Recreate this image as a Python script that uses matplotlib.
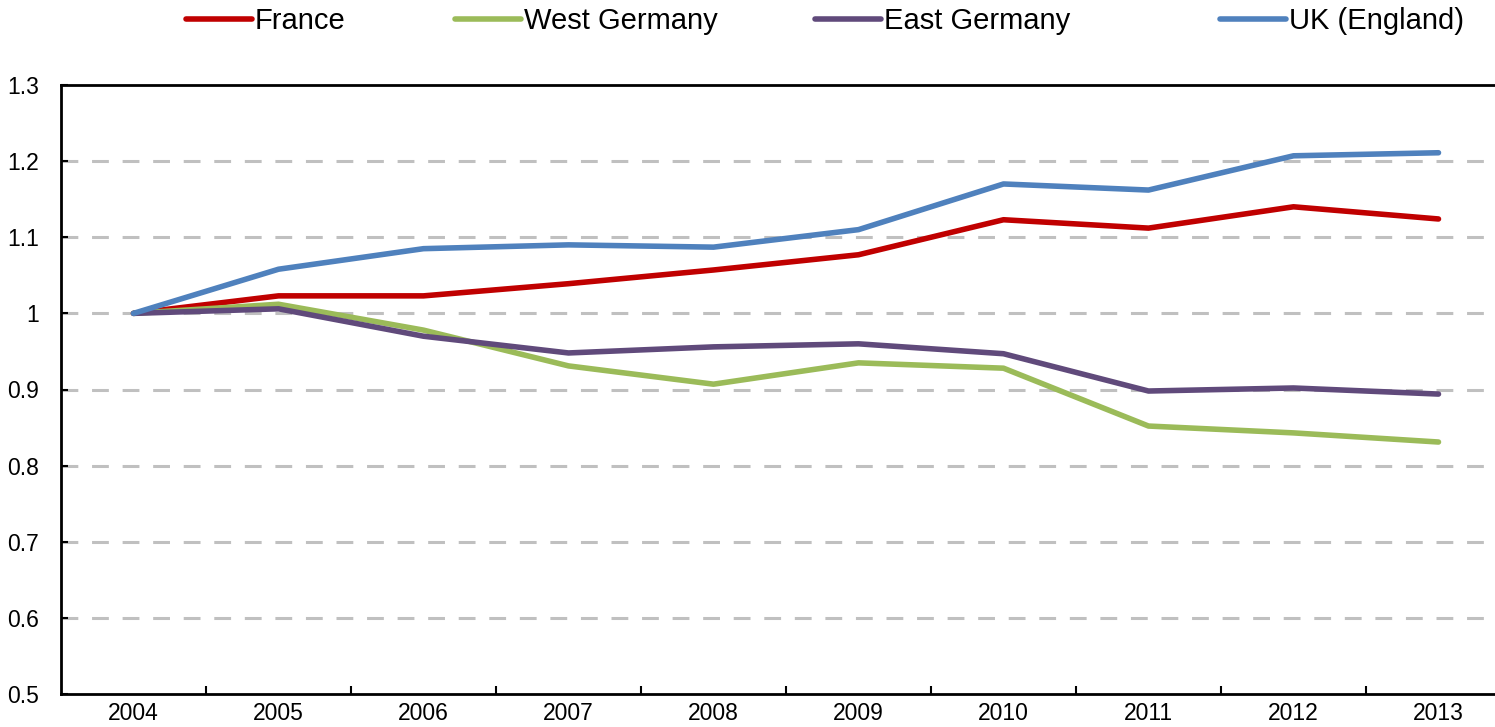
import matplotlib.pyplot as plt
from matplotlib.lines import Line2D

plt.rcParams['font.family'] = ['Liberation Sans', 'DejaVu Sans']

years = ['2004', '2005', '2006', '2007', '2008', '2009', '2010', '2011', '2012', '2013']
france = [1.000, 1.023, 1.023, 1.039, 1.057, 1.077, 1.123, 1.112, 1.140, 1.124]
west_germany = [1.000, 1.012, 0.978, 0.931, 0.907, 0.935, 0.928, 0.852, 0.843, 0.831]
east_germany = [1.000, 1.006, 0.970, 0.948, 0.956, 0.960, 0.947, 0.898, 0.902, 0.894]
uk = [1.000, 1.058, 1.085, 1.090, 1.087, 1.110, 1.170, 1.162, 1.207, 1.211]

series = [('France', france, '#C00000'),
          ('West Germany', west_germany, '#9BBB59'),
          ('East Germany', east_germany, '#604A7B'),
          ('UK (England)', uk, '#4F81BD')]

fig = plt.figure(figsize=(14.95, 7.27), dpi=100)
ax = fig.add_axes([61 / 1495, 1 - 694 / 727, 1450 / 1495, 609 / 727])

x = range(len(years))
for name, vals, col in series:
    ax.plot(x, vals, color=col, lw=4, label=name, solid_capstyle='round', zorder=3)

ax.set_xlim(-0.5, len(years) - 0.5)
ax.set_ylim(0.5, 1.3)
ax.set_yticks([0.5, 0.6, 0.7, 0.8, 0.9, 1.0, 1.1, 1.2, 1.3])
ax.set_yticklabels(['0.5', '0.6', '0.7', '0.8', '0.9', '1', '1.1', '1.2', '1.3'])
ax.set_xticks(list(x))
ax.set_xticklabels(years)
ax.set_xticks([i + 0.5 for i in range(len(years) - 1)], minor=True)

for v in [0.6, 0.7, 0.8, 0.9, 1.0, 1.1, 1.2]:
    ax.axhline(v, color='#C0C0C0', lw=2.2, ls=(0, (5.5, 4.5)), zorder=1)

ax.tick_params(axis='x', which='major', length=0, labelsize=16.5, pad=6)
ax.tick_params(axis='x', which='minor', direction='in', length=6, width=1.5)
ax.tick_params(axis='y', direction='in', length=5, width=1.5, labelsize=16.5, pad=16)

for s in ['left', 'bottom', 'top']:
    ax.spines[s].set_linewidth(2)
ax.spines['right'].set_visible(False)

# legend entries sit at uneven spots in the original, so one legend per entry
leg_x = [186, 455, 815, 1220]
for (name, vals, col), lx in zip(series, leg_x):
    h = Line2D([], [], color=col, lw=4, solid_capstyle='round')
    leg = fig.legend([h], [name], loc='center left', bbox_to_anchor=(lx / 1495, 1 - 21 / 727),
                     frameon=False, fontsize=21, handlelength=2.25, handletextpad=0.1,
                     borderpad=0, borderaxespad=0)

fig.savefig('out.png', dpi=100)
